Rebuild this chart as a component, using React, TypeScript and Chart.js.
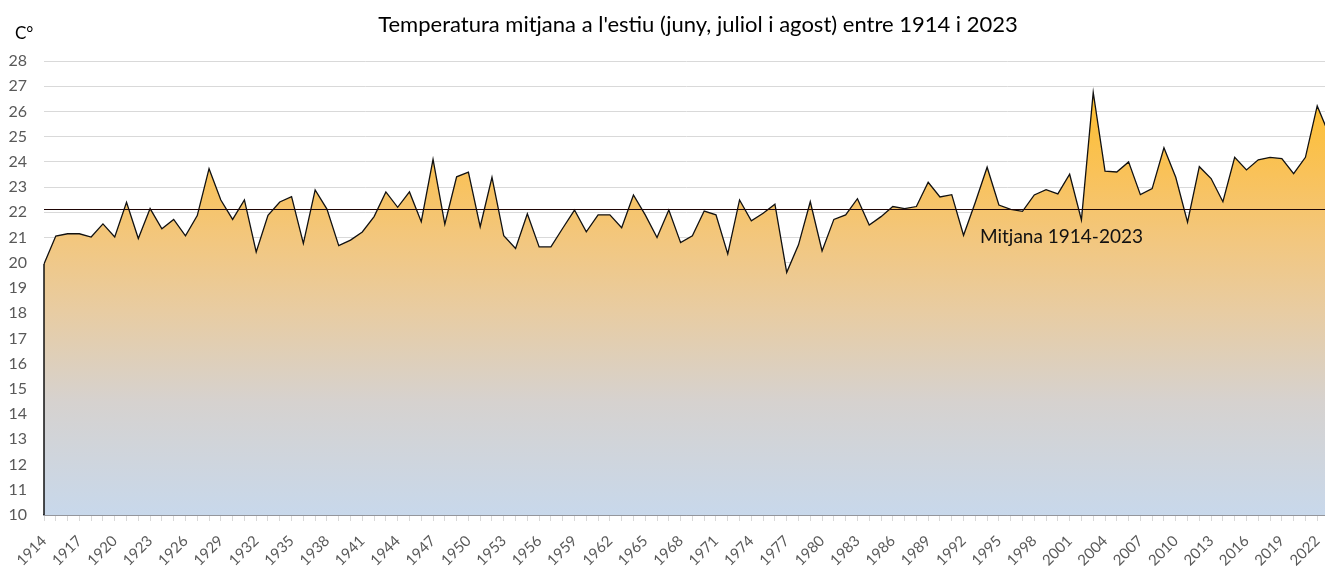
import React, { useEffect, useRef } from "react";
import { Chart, registerables } from "chart.js";

Chart.register(...registerables);

const years: string[] = [
  "1914","1915","1916","1917","1918","1919","1920","1921","1922","1923",
  "1924","1925","1926","1927","1928","1929","1930","1931","1932","1933",
  "1934","1935","1936","1937","1938","1939","1940","1941","1942","1943",
  "1944","1945","1946","1947","1948","1949","1950","1951","1952","1953",
  "1954","1955","1956","1957","1958","1959","1960","1961","1962","1963",
  "1964","1965","1966","1967","1968","1969","1970","1971","1972","1973",
  "1974","1975","1976","1977","1978","1979","1980","1981","1982","1983",
  "1984","1985","1986","1987","1988","1989","1990","1991","1992","1993",
  "1994","1995","1996","1997","1998","1999","2000","2001","2002","2003",
  "2004","2005","2006","2007","2008","2009","2010","2011","2012","2013",
  "2014","2015","2016","2017","2018","2019","2020","2021","2022","2023",
];

const temperatures: number[] = [
  19.95, 21.06, 21.15, 21.15, 21.02, 21.54, 21.02, 22.40, 20.96, 22.15,
  21.35, 21.72, 21.07, 21.87, 23.73, 22.49, 21.72, 22.49, 20.43, 21.88,
  22.41, 22.62, 20.77, 22.89, 22.13, 20.68, 20.90, 21.22, 21.83, 22.81,
  22.20, 22.81, 21.63, 24.10, 21.53, 23.41, 23.59, 21.43, 23.39, 21.07,
  20.57, 21.94, 20.63, 20.63, 21.37, 22.09, 21.23, 21.90, 21.90, 21.39,
  22.69, 21.90, 21.00, 22.09, 20.80, 21.07, 22.05, 21.90, 20.35, 22.49,
  21.66, 21.96, 22.32, 19.62, 20.71, 22.42, 20.47, 21.72, 21.90, 22.54,
  21.50, 21.83, 22.23, 22.15, 22.23, 23.19, 22.61, 22.70, 21.09, 22.40,
  23.79, 22.29, 22.12, 22.04, 22.69, 22.90, 22.73, 23.51, 21.70, 26.75,
  23.63, 23.60, 24.00, 22.70, 22.94, 24.56, 23.39, 21.61, 23.81, 23.34,
  22.42, 24.18, 23.68, 24.08, 24.18, 24.13, 23.53, 24.18, 26.22, 25.10,
];

const meanValue = 22.13;
const meanLabel = "Mitjana 1914-2023";
const titleText = "Temperatura mitjana a l'estiu (juny, juliol i agost) entre 1914 i 2023";
const unitLabel = "C°";
const yMin = 10;
const yMax = 28;

const FONT = "Lato, 'Open Sans', sans-serif";

const decorPlugin = {
  id: "decor",
  afterDatasetsDraw(chart: any) {
    const { ctx, chartArea, scales } = chart;
    const ys = scales.y;
    const xs = scales.x;
    ctx.save();
    // left edge of the area outline
    const x0 = xs.getPixelForValue(0);
    ctx.strokeStyle = "#111";
    ctx.lineWidth = 1.5;
    ctx.beginPath();
    ctx.moveTo(x0, ys.getPixelForValue(temperatures[0]));
    ctx.lineTo(x0, ys.getPixelForValue(yMin));
    ctx.stroke();
    // mean line
    const ym = Math.round(ys.getPixelForValue(meanValue)) + 0.5;
    ctx.strokeStyle = "#1e0505";
    ctx.lineWidth = 1.2;
    ctx.beginPath();
    ctx.moveTo(chartArea.left, ym);
    ctx.lineTo(chartArea.right, ym);
    ctx.stroke();
    // mean label
    ctx.fillStyle = "#111";
    ctx.font = `19px ${FONT}`;
    ctx.textAlign = "left";
    ctx.textBaseline = "alphabetic";
    ctx.fillText(meanLabel, 980, 243);
    // title
    ctx.font = `22px ${FONT}`;
    ctx.textAlign = "center";
    ctx.fillStyle = "#000";
    ctx.fillText(titleText, 698, 32);
    // unit
    ctx.font = `17px ${FONT}`;
    ctx.textAlign = "left";
    ctx.fillText(unitLabel, 15, 39);
    ctx.restore();
  },
};

export default function App() {
  const canvasRef = useRef<HTMLCanvasElement | null>(null);

  useEffect(() => {
    const canvas = canvasRef.current;
    if (!canvas) return;
    const chart = new Chart(canvas, {
      type: "line",
      data: {
        labels: years,
        datasets: [
          {
            data: temperatures,
            borderColor: "#111",
            borderWidth: 1.3,
            pointRadius: 0,
            tension: 0,
            fill: "start",
            backgroundColor: (c: any) => {
              const ch = c.chart;
              const area = ch.chartArea;
              if (!area) return "rgba(0,0,0,0)";
              const g = ch.ctx.createLinearGradient(0, area.top, 0, area.bottom);
              g.addColorStop(0, "rgb(255,190,30)");
              g.addColorStop(0.25, "rgb(249,194,90)");
              g.addColorStop(0.4, "rgb(242,199,128)");
              g.addColorStop(0.55, "rgb(232,204,162)");
              g.addColorStop(0.75, "rgb(214,210,207)");
              g.addColorStop(1, "rgb(200,216,235)");
              return g;
            },
          },
        ],
      },
      options: {
        responsive: false,
        animation: false,
        devicePixelRatio: 1,
        layout: { padding: { top: 61, right: 1, left: 0, bottom: 0 } },
        plugins: {
          legend: { display: false },
          title: { display: false },
          tooltip: { enabled: false },
        },
        scales: {
          x: {
            type: "category",
            offset: false,
            afterFit: (s: any) => {
              s.height = 52;
              s.paddingRight = 0;
            },
            grid: {
              display: true,
              drawOnChartArea: false,
              drawTicks: true,
              tickLength: 6,
              color: "#d9d9d9",
              tickColor: "#d9d9d9",
            },
            border: { display: true, color: "#505560", width: 1.5 },
            ticks: {
              autoSkip: false,
              maxRotation: 45,
              minRotation: 45,
              padding: 11,
              color: "#595959",
              font: { family: FONT, size: 15 },
              callback: (_v: any, i: number) => (i % 3 === 0 ? years[i] : ""),
            },
          },
          y: {
            min: yMin,
            max: yMax,
            afterFit: (s: any) => {
              s.width = 44;
            },
            grid: {
              color: "#d9d9d9",
              lineWidth: 1,
              drawTicks: false,
            },
            border: { display: false },
            ticks: {
              stepSize: 1,
              padding: 17,
              color: "#595959",
              font: { family: FONT, size: 16 },
            },
          },
        },
      },
      plugins: [decorPlugin],
    });
    return () => chart.destroy();
  }, []);

  return (
    <div
      style={{
        position: "fixed",
        left: 0,
        top: 0,
        width: 1325,
        height: 567,
        overflow: "hidden",
        background: "#fff",
      }}
    >
      <canvas ref={canvasRef} width={1330} height={567} style={{ display: "block" }} />
    </div>
  );
}
